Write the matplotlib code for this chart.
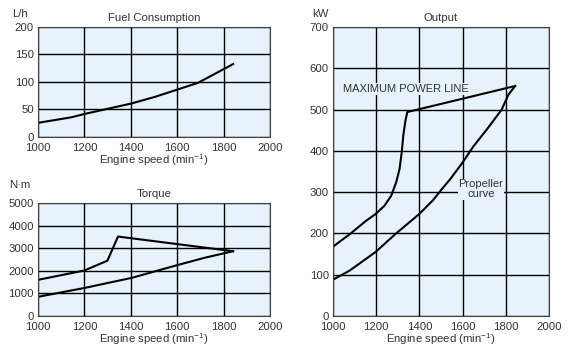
import numpy as np
import matplotlib
matplotlib.use("Agg")
from matplotlib import pyplot as plt

plt.rcParams['font.family'] = ['Liberation Sans', 'DejaVu Sans']
plt.rcParams['mathtext.default'] = 'regular'

# fuel consumption (L/h)
fuel_rpm = [1000, 1144, 1200, 1403, 1503, 1604, 1690, 1841]
fuel_lh = [25.7, 35.8, 41.8, 60.9, 72.8, 86.6, 98.5, 132.5]

# torque (N·m) - max torque line and propeller line
torque_max_rpm = [1000, 1200, 1299, 1345, 1841]
torque_max = [1600, 2014, 2445, 3516, 2867]
torque_prop_rpm = [1000, 1200, 1403, 1604, 1719, 1841]
torque_prop = [850, 1240, 1686, 2262, 2579, 2867]

# output (kW)
power_max_rpm = [1000, 1077, 1154, 1197, 1238, 1269, 1292, 1308, 1318, 1326, 1336, 1344, 1843]
power_max = [168, 198, 231, 247, 267, 291, 323, 356, 396, 440, 475, 494, 557]
power_prop_rpm = [1000, 1077, 1154, 1197, 1292, 1397, 1462, 1508, 1542, 1599,
                  1650, 1711, 1781, 1812, 1843]
power_prop = [88, 110, 139, 155, 200, 246, 280, 310, 331, 371,
              411, 451, 500, 536, 557]

xticks = [1000, 1200, 1400, 1600, 1800, 2000]
bg = '#e6f3fb'
txt = '#333333'
xlabel = 'Engine speed (min$^{-1}$)'


def setup(ax, ylim, yticks, title, unit, unit_x, unit_y):
    ax.set_facecolor(bg)
    ax.set_xlim(1000, 2000)
    ax.set_ylim(*ylim)
    ax.set_xticks(xticks)
    ax.set_yticks(yticks)
    ax.grid(True, color='black', linewidth=1.0)
    ax.set_axisbelow(True)
    ax.tick_params(length=0, labelsize=8.2, labelcolor=txt)
    ax.tick_params(axis='x', pad=4)
    ax.tick_params(axis='y', pad=3)
    for s in ax.spines.values():
        s.set_color('#444444')
        s.set_linewidth(0.8)
    ax.set_xlabel(xlabel, fontsize=8.2, color=txt, labelpad=0)
    ax.set_title(title, fontsize=8.2, color=txt, pad=4)
    ax.text(unit_x, unit_y, unit, transform=ax.transAxes, ha='center', va='center',
            fontsize=8.2, color=txt)


fig = plt.figure(figsize=(5.72, 3.49), dpi=100)

ax1 = fig.add_axes([0.0664, 0.6075, 0.4056, 0.3152])
setup(ax1, (0, 200), [0, 50, 100, 150, 200], 'Fuel Consumption', 'L/h', -0.078, 1.118)
ax1.plot(fuel_rpm, fuel_lh, color='black', linewidth=1.5)

ax2 = fig.add_axes([0.0664, 0.0945, 0.4056, 0.3238])
setup(ax2, (0, 5000), [0, 1000, 2000, 3000, 4000, 5000], 'Torque', 'N·m', -0.078, 1.16)
ax2.plot(torque_max_rpm, torque_max, color='black', linewidth=1.5)
ax2.plot(torque_prop_rpm, torque_prop, color='black', linewidth=1.5)

ax3 = fig.add_axes([0.5822, 0.0945, 0.3776, 0.8282])
setup(ax3, (0, 700), [0, 100, 200, 300, 400, 500, 600, 700], 'Output', 'kW', -0.06, 1.045)
ax3.plot(power_max_rpm, power_max, color='black', linewidth=1.5)
ax3.plot(power_prop_rpm, power_prop, color='black', linewidth=1.5)
ax3.text(1046, 550, 'MAXIMUM POWER LINE', fontsize=8, color=txt, ha='left', va='center',
         bbox=dict(facecolor=bg, edgecolor='none', pad=0.5))
ax3.text(1685, 307, 'Propeller\ncurve', fontsize=8, color=txt, ha='center', va='center',
         linespacing=0.95, bbox=dict(facecolor=bg, edgecolor='none', pad=0.5))

fig.savefig('out.png', dpi=100)
